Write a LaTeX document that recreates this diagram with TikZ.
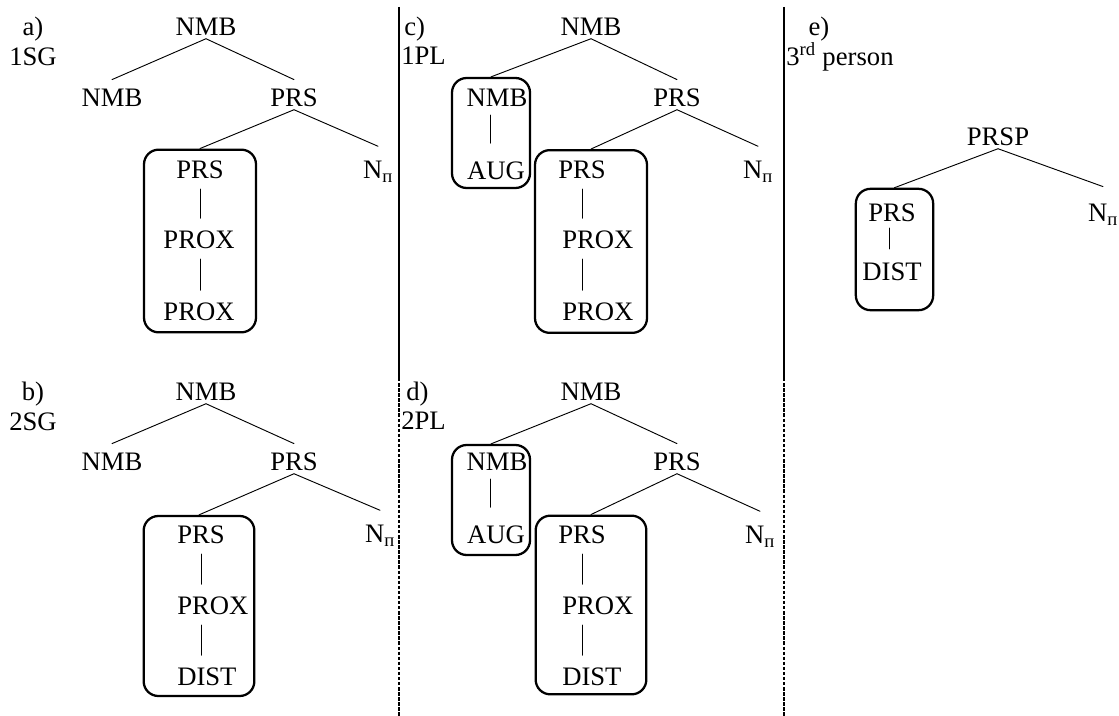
\documentclass[tikz,border=0pt]{standalone}
\usepackage{fontspec}
\setmainfont{Liberation Serif}
\begin{document}
\begin{tikzpicture}[x=0.75pt,y=-0.75pt, font=\fontsize{20}{24}\selectfont, line join=round, line cap=round,
	cat/.style={inner sep=0pt, text height=13.2pt, text depth=0pt},
	grp/.style={draw, line width=1.7pt, rounded corners=11pt, inner sep=0pt},
	br/.style={line width=0.7pt},
	bar/.style={br, shorten <=7.5pt, shorten >=9.5pt},
	sep/.style={line width=2pt, line cap=butt},
	sepdash/.style={line width=1.6pt, line cap=butt, dash pattern=on 2.6pt off 1.2pt}]
	\useasboundingbox (0,0) rectangle (1119,716);
	% trennlinien
	\coordinate (s1t) at (399,7); \coordinate (s1m) at (399,378); \coordinate (s1b) at (399,716);
	\coordinate (s2t) at (784,7); \coordinate (s2m) at (784,378); \coordinate (s2b) at (784,716);
	\draw[sep] (s1t)--(s1m); \draw[sepdash] (s1m)--(s1b);
	\draw[sep] (s2t)--(s2m); \draw[sepdash] (s2m)--(s2b);
	% a) 1SG
	\node[cat] (la) at (33,27) {a)};
	\node[cat] (pa) at (33,57) {1SG};
	\node[cat] (a0) at (206,27) {NMB};
	\node[cat] (a1) at (112,98) {NMB};
	\node[cat] (a2) at (294,98) {PRS};
	\node[grp, minimum width=84pt, minimum height=137pt] (ga) at (200,241) {};
	\node[cat] (a3) at (200,170) {PRS};
	\node[cat] (a4) at (199,240) {PROX};
	\node[cat] (a5) at (199,312) {PROX};
	\node[cat] (a6) at (378,170) {N\textsubscript{п}};
	\draw[br] ([yshift=-2pt]a0.south)--([yshift=7pt]a1.north);
	\draw[br] ([yshift=-2pt]a0.south)--([yshift=7pt]a2.north);
	\draw[br] ([yshift=-2pt]a2.south)--(ga.north);
	\draw[br] ([yshift=-2pt]a2.south)--([yshift=11pt]a6.north);
	\draw[bar] (a3.south)--(a3.south |- a4.north);
	\draw[bar] (a4.south -| a3.south)--(a3.south |- a5.north);
	% b) 2SG
	\node[cat] (lb) at (33,392) {b)};
	\node[cat] (pb) at (33,422) {2SG};
	\node[cat] (b0) at (206,392) {NMB};
	\node[cat] (b1) at (112,462) {NMB};
	\node[cat] (b2) at (294,462) {PRS};
	\node[grp, minimum width=83pt, minimum height=135pt] (gb) at (199,606) {};
	\node[cat, anchor=west] (b3) at (177,535) {PRS};
	\node[cat, anchor=west] (b4) at (177,606) {PROX};
	\node[cat, anchor=west] (b5) at (177,677) {DIST};
	\node[cat] (b6) at (380,534) {N\textsubscript{п}};
	\draw[br] ([yshift=-2pt]b0.south)--([yshift=7pt]b1.north);
	\draw[br] ([yshift=-2pt]b0.south)--([yshift=7pt]b2.north);
	\draw[br] ([yshift=-2pt]b2.south)--(gb.north);
	\draw[br] ([yshift=-2pt]b2.south)--([yshift=11pt]b6.north);
	\draw[bar] (b3.south)--(b3.south |- b4.north);
	\draw[bar] (b4.south -| b3.south)--(b3.south |- b5.north);
	% c) 1PL
	\node[cat, anchor=west] (lc) at (404,27) {c)};
	\node[cat, anchor=west] (pc) at (401,56) {1PL};
	\node[cat] (c0) at (591,27) {NMB};
	\node[grp, minimum width=58.5pt, minimum height=82.5pt] (gc1) at (491,133) {};
	\node[cat] (c1) at (497,98) {NMB};
	\node[cat] (c2) at (496,171) {AUG};
	\node[cat] (c3) at (677,98) {PRS};
	\node[grp, minimum width=84pt, minimum height=137pt] (gc2) at (591,241.5) {};
	\node[cat, anchor=west] (c4) at (558,170) {PRS};
	\node[cat, anchor=west] (c5) at (562,240) {PROX};
	\node[cat, anchor=west] (c6) at (562,312) {PROX};
	\node[cat] (c7) at (758,170) {N\textsubscript{п}};
	\draw[br] ([yshift=-2pt]c0.south)--(gc1.north);
	\draw[br] ([yshift=-2pt]c0.south)--([yshift=7pt]c3.north);
	\draw[br] ([yshift=-2pt]c3.south)--(gc2.north);
	\draw[br] ([yshift=-2pt]c3.south)--([yshift=11pt]c7.north);
	\draw[bar, shorten <=6pt, shorten >=14pt] ([xshift=-5pt]c1.south)--([xshift=-5pt]c1.south |- c2.north);
	\draw[bar] (c4.south)--(c4.south |- c5.north);
	\draw[bar] (c5.south -| c4.south)--(c4.south |- c6.north);
	% d) 2PL
	\node[cat, anchor=west] (ld) at (406,392) {d)};
	\node[cat, anchor=west] (pd) at (401,421) {2PL};
	\node[cat] (d0) at (591,392) {NMB};
	\node[grp, minimum width=58.5pt, minimum height=82.5pt] (gd1) at (491,500) {};
	\node[cat] (d1) at (497,462) {NMB};
	\node[cat] (d2) at (496,535) {AUG};
	\node[cat] (d3) at (677,462) {PRS};
	\node[grp, minimum width=83pt, minimum height=134pt] (gd2) at (591,605) {};
	\node[cat, anchor=west] (d4) at (558,535) {PRS};
	\node[cat, anchor=west] (d5) at (562,606) {PROX};
	\node[cat, anchor=west] (d6) at (562,677) {DIST};
	\node[cat] (d7) at (760,535) {N\textsubscript{п}};
	\draw[br] ([yshift=-2pt]d0.south)--(gd1.north);
	\draw[br] ([yshift=-2pt]d0.south)--([yshift=7pt]d3.north);
	\draw[br] ([yshift=-2pt]d3.south)--(gd2.north);
	\draw[br] ([yshift=-2pt]d3.south)--([yshift=11pt]d7.north);
	\draw[bar, shorten <=6pt, shorten >=14pt] ([xshift=-5pt]d1.south)--([xshift=-5pt]d1.south |- d2.north);
	\draw[bar] (d4.south)--(d4.south |- d5.north);
	\draw[bar] (d5.south -| d4.south)--(d4.south |- d6.north);
	% e) 3rd person
	\node[cat] (le) at (819,27) {e)};
	\node[cat, anchor=west] (pe) at (786,57) {3\textsuperscript{rd} person};
	\node[cat] (e0) at (998,137) {PRSP};
	\node[grp, minimum width=58pt, minimum height=91pt] (ge) at (894.5,249.5) {};
	\node[cat] (e1) at (892,213) {PRS};
	\node[cat] (e2) at (892,272) {DIST};
	\node[cat] (e3) at (1103,213) {N\textsubscript{п}};
	\draw[br] ([yshift=-2pt]e0.south)--(ge.north);
	\draw[br] ([yshift=-2pt]e0.south)--([yshift=13pt]e3.north);
	\draw[bar, shorten <=4.5pt, shorten >=10.5pt] ([xshift=-2pt]e1.south)--([xshift=-2pt]e1.south |- e2.north);
\end{tikzpicture}
\end{document}
